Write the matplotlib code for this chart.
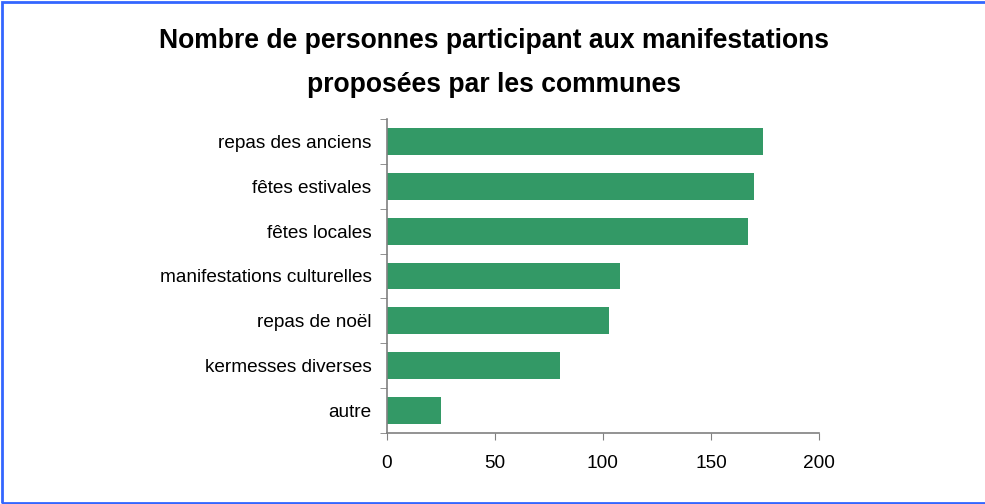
import matplotlib.pyplot as plt
from matplotlib.patches import Rectangle

plt.rcParams['font.family'] = ['Liberation Sans', 'DejaVu Sans']

# data
categories = ['repas des anciens', 'fêtes estivales', 'fêtes locales',
              'manifestations culturelles', 'repas de noël',
              'kermesses diverses', 'autre']
participants = [174, 170, 167, 108, 103, 80, 25]
x_ticks = [0, 50, 100, 150, 200]

bar_color = '#339966'
axis_color = '#808080'

fig = plt.figure(figsize=(9.85, 5.04), dpi=100)
ax = fig.add_axes([0.3926, 0.1409, 0.4389, 0.623])

ypos = list(range(len(categories)))
ax.barh(ypos, participants, height=0.6, color=bar_color)

ax.set_xlim(0, 200)
ax.set_ylim(len(categories) - 0.5, -0.5)
ax.set_xticks(x_ticks)
ax.set_xticklabels([str(t) for t in x_ticks], fontsize=13.7)

# category labels centred, tick marks between categories (Excel style)
ax.set_yticks(ypos)
ax.set_yticklabels(categories, fontsize=13.7)
ax.tick_params(axis='y', which='major', length=0, pad=11)
ax.set_yticks([i - 0.5 for i in range(len(categories) + 1)], minor=True)
ax.tick_params(axis='y', which='minor', length=5, color=axis_color)
ax.tick_params(axis='x', length=5, color=axis_color, pad=11)

for s in ['top', 'right']:
    ax.spines[s].set_visible(False)
for s in ['left', 'bottom']:
    ax.spines[s].set_color(axis_color)
    ax.spines[s].set_linewidth(1.2)

fig.text(0.5015, 0.9048, 'Nombre de personnes participant aux manifestations',
         ha='center', va='baseline', fontsize=19.1, fontweight='bold')
fig.text(0.5015, 0.8175, 'proposées par les communes',
         ha='center', va='baseline', fontsize=19.1, fontweight='bold')

# blue frame around the chart
fig.patches.append(Rectangle((0.002, 0.002), 1.2, 0.994, transform=fig.transFigure,
                             fill=False, edgecolor='#3366ff', linewidth=2))

fig.savefig('out.png', dpi=100)
